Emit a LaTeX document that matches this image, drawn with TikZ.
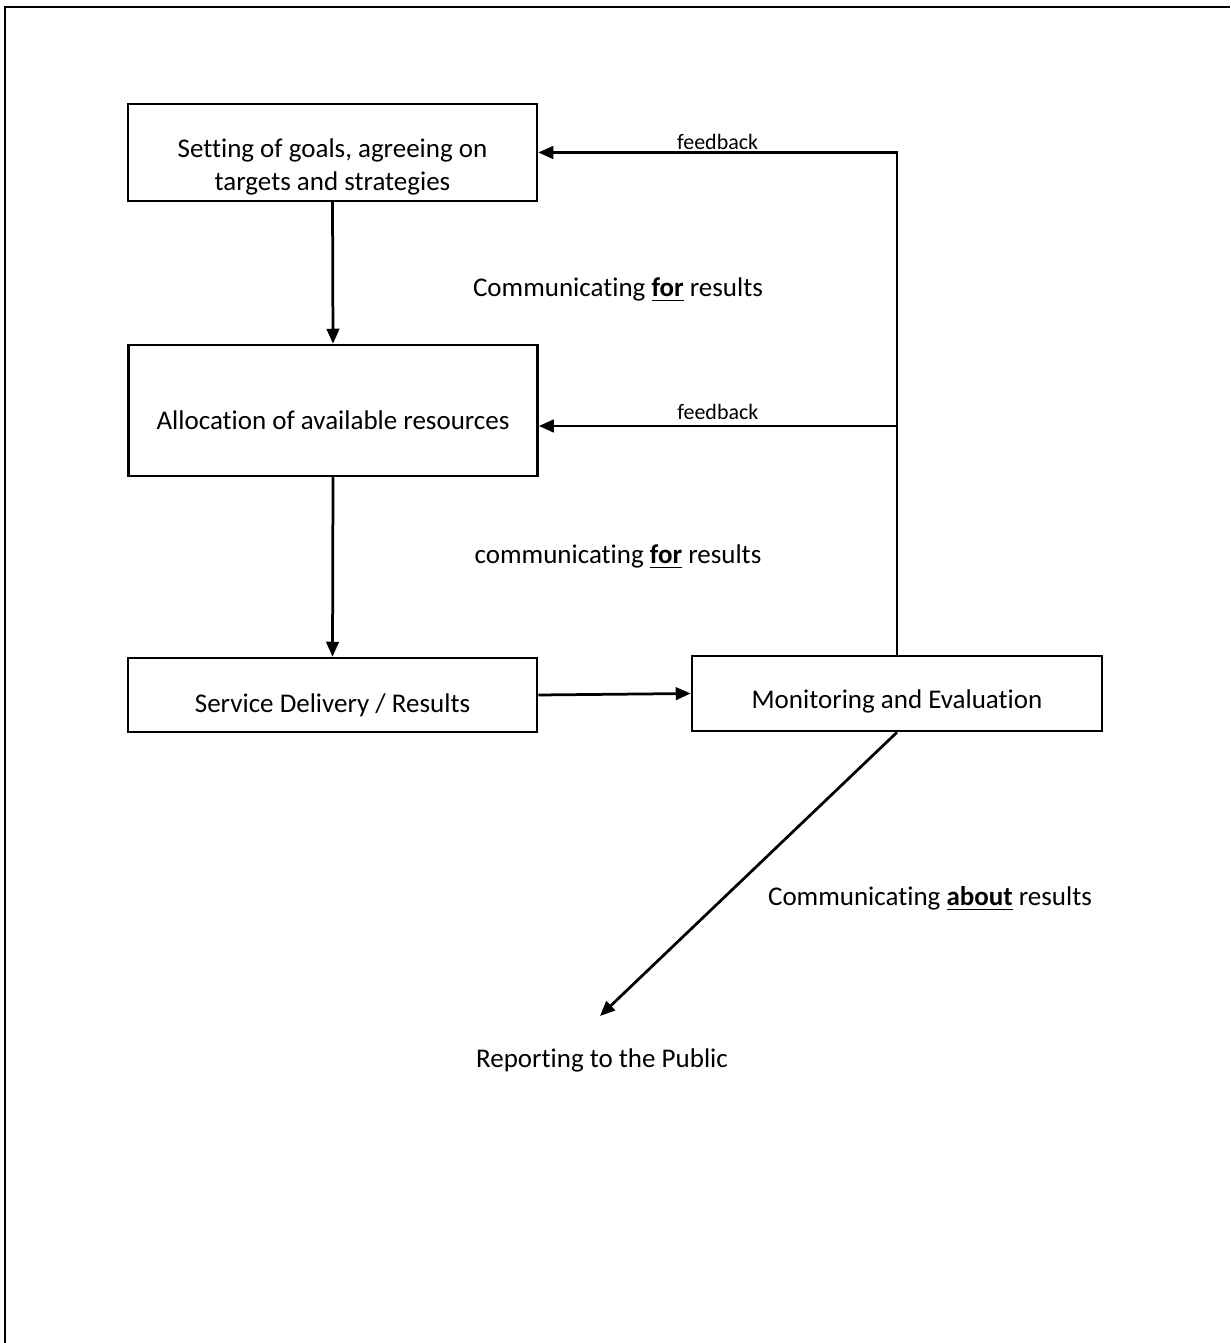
\documentclass[tikz,border=0pt]{standalone}
\usepackage{fontspec}
\setmainfont{Carlito}[Ligatures=NoCommon]
\usetikzlibrary{arrows.meta}

\begin{document}
\begin{tikzpicture}[x=0.4pt, y=-0.4pt,
					box/.style={draw, line width=1pt, minimum width=163.6pt, inner sep=0pt},
					txt/.style={font=\fontsize{10.8}{13.2}\selectfont},
					one/.style={txt, text height=7.5pt, text depth=2.5pt},
					small/.style={font=\fontsize{8.8}{10}\selectfont, inner sep=2pt},
					post/.style={-{Triangle[length=6pt, width=5pt]}, line width=1.1pt}]
	\useasboundingbox (0,0) rectangle (1230,1343);
	\draw[line width=1pt] (5,1343) -- (5,7) -- (1230,7);
	% boxes
	\node[box, minimum height=38.8pt, label={[txt, align=center, yshift=-5.8pt]center:Setting of goals, agreeing on\\targets and strategies}] (goals) at (332.5,152.5) {};
	\node[box, minimum height=52.4pt, label={[one, yshift=-5pt]center:Allocation of available resources}] (alloc) at (333,410.5) {};
	\node[box, minimum height=29.6pt, label={[one, yshift=-4.4pt]center:Service Delivery / Results}] (service) at (332.5,695) {};
	\node[box, minimum width=164pt, minimum height=30pt, label={[one, yshift=-3.4pt]center:Monitoring and Evaluation}] (monitor) at (897,693.5) {};
	\node[one] (public) at (602,1061) {Reporting to the Public};
	% labels
	\node[txt] (for1) at (618,290) {Communicating \underline{\textbf{for}} results};
	\node[txt] (for2) at (618,557) {communicating \underline{\textbf{for}} results};
	\node[txt] (about) at (930,899) {Communicating \underline{\textbf{about}} results};
	\coordinate (fb) at (897,426);
	\coordinate (rep) at (600,1016);
	% arrows
	\draw[post] (goals.south) -- (alloc.north);
	\draw[post] (alloc.south) -- (service.north);
	\draw[post] (service.east) -- (monitor.west);
	\draw[post] (monitor.north) |- node[pos=0.75, above, small, yshift=-1.5pt] {feedback} (goals.east);
	\draw[post] (fb) -- node[above, small] {feedback} (fb -| alloc.east);
	\draw[post] (monitor.south) -- (rep);
\end{tikzpicture}
\end{document}
